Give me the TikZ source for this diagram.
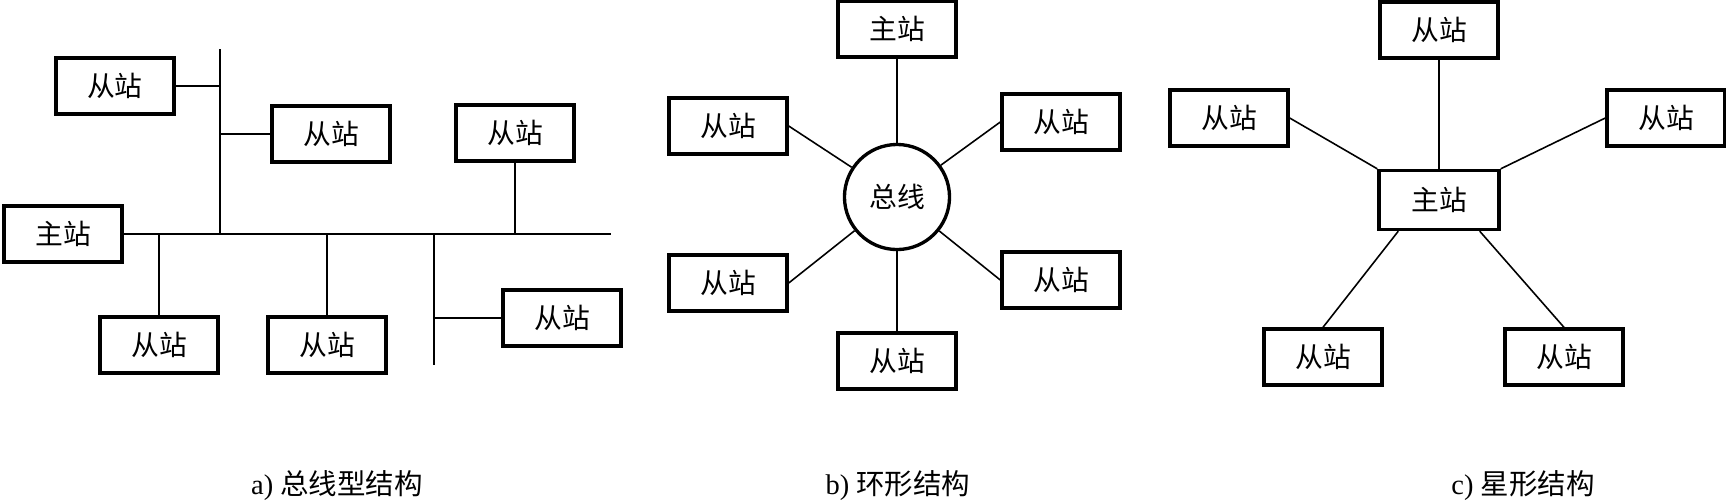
\documentclass[tikz,border=0pt]{standalone}
\usepackage{fontspec}
\setmainfont{Liberation Serif}
\newfontfamily\cjk{Noto Sans CJK SC}
\usetikzlibrary{positioning,calc}

\begin{document}
\begin{tikzpicture}[x=0.01cm,y=-0.01cm,
  zhan/.style={rectangle,draw,line width=0.95pt,minimum width=1.18cm,minimum height=0.56cm,
               inner sep=0pt,font=\fontsize{7.9}{9}\cjk},
  link/.style={line width=0.45pt},
  ring/.style={circle,draw,line width=0.95pt,minimum size=1.05cm,inner sep=0pt,font=\fontsize{7.9}{9}\cjk},
  caption/.style={font=\fontsize{8.1}{9}\selectfont}
]
\useasboundingbox (0,0) rectangle (1726,502);

% a) bus
\node[zhan] (amain) at (63,234) {主站};
\node[zhan] (atl) at (115,86) {从站};
\node[zhan] (at2) at (331,134) {从站};
\node[zhan] (at3) at (515,133) {从站};
\node[zhan] (ab1) at (159,345) {从站};
\node[zhan] (ab2) at (327,345) {从站};
\node[zhan] (ab3) at (562,318) {从站};
\coordinate (abusR) at (611,234);
\coordinate (abusT) at (220,49);
\coordinate (abusB) at (434,365);
\draw[link] (amain.east) -- (abusR);
\draw[link] (abusT) -- (abusT |- abusR);
\draw[link] (atl.east) -- (atl.east -| abusT);
\draw[link] (at2.west) -- (at2.west -| abusT);
\draw[link] (at3.south) -- (at3.south |- abusR);
\draw[link] (ab1.north) -- (ab1.north |- abusR);
\draw[link] (ab2.north) -- (ab2.north |- abusR);
\draw[link] (abusB |- abusR) -- (abusB);
\draw[link] (ab3.west) -- (ab3.west -| abusB);

% b) ring
\node[ring] (bbus) at (897,197) {总线};
\node[zhan] (bmain) at (897,29) {主站};
\node[zhan] (bul) at (728,126) {从站};
\node[zhan] (bur) at (1061,122) {从站};
\node[zhan] (bll) at (728,283) {从站};
\node[zhan] (blr) at (1061,280) {从站};
\node[zhan] (bbot) at (897,361) {从站};
\draw[link] (bmain) -- (bbus);
\draw[link] (bul.east) -- (bbus);
\draw[link] (bur.west) -- (bbus);
\draw[link] (bll.east) -- (bbus);
\draw[link] (blr.west) -- (bbus);
\draw[link] (bbot) -- (bbus);

% c) star
\node[zhan,minimum height=0.59cm,minimum width=1.2cm] (cmain) at (1439,200) {主站};
\node[zhan] (ctop) at (1439,30) {从站};
\node[zhan] (cl) at (1229,118) {从站};
\node[zhan] (cr) at (1666,118) {从站};
\node[zhan] (cbl) at (1323,357) {从站};
\node[zhan] (cbr) at (1564,357) {从站};
\draw[link] (ctop) -- (cmain);
\draw[link] (cl.east) -- (cmain.north west);
\draw[link] (cr.west) -- (cmain.north east);
\draw[link] (cbl.north) -- ($(cmain.south west)!0.17!(cmain.south east)$);
\draw[link] (cbr.north) -- ($(cmain.south west)!0.83!(cmain.south east)$);

% captions
\node[caption] (capa) at (337,486) {a) {\cjk 总线型结构}};
\node[caption] (capb) at (898,486) {b) {\cjk 环形结构}};
\node[caption] (capc) at (1523,486) {c) {\cjk 星形结构}};
\end{tikzpicture}
\end{document}
